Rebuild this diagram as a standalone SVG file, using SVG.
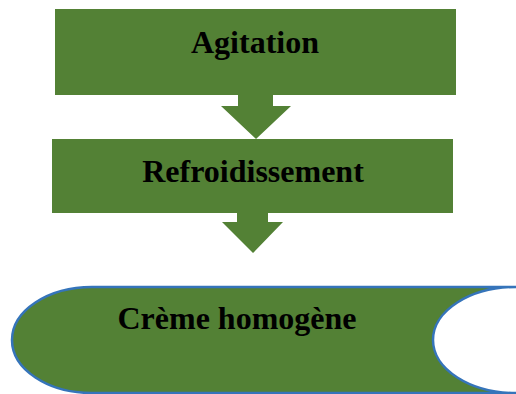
<svg xmlns="http://www.w3.org/2000/svg" width="516" height="394" viewBox="0 0 516 394">
<style>
.box{fill:#538135;}
.arrow{fill:#538135;}
.lbl{font-family:"Liberation Serif","Times New Roman",serif;font-weight:bold;font-size:32px;fill:#000;text-anchor:middle;}
.store{fill:#538135;stroke:#3574ba;stroke-width:2.5;}
</style>
<rect width="516" height="394" fill="#fff"/>
<g id="agitation">
<rect class="box" x="55" y="9" width="401" height="86"/>
<text class="lbl" x="255" y="52.5">Agitation</text>
</g>
<g id="refroidissement">
<rect class="box" x="52" y="139" width="401" height="74"/>
<text class="lbl" x="253" y="181.5">Refroidissement</text>
</g>
<g id="creme">
<path class="store" d="M92,287 H516 A83,53 0 0 0 516,393 H92 A80,53 0 0 1 92,287 Z"/>
<text class="lbl" x="237" y="328.5">Crème homogène</text>
</g>
<g id="connectors">
<path class="arrow" d="M238,95 H273 V106 H291 L256,139 L221,106 H238 Z"/>
<path class="arrow" d="M237,213 H268 V222 H283 L253,253 L222,222 H237 Z"/>
</g>
</svg>
